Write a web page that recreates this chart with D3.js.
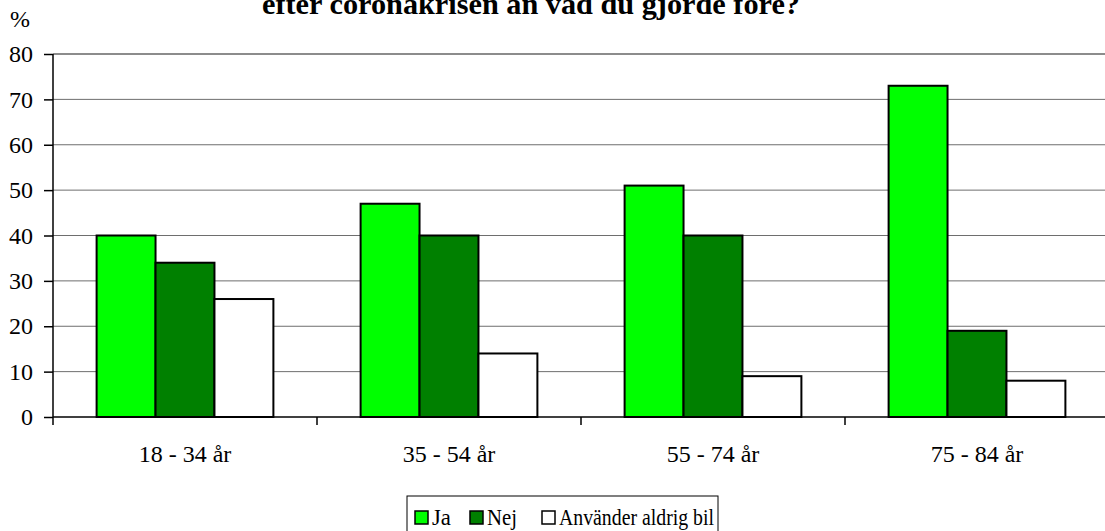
<!DOCTYPE html>
<html>
<head>
<meta charset="utf-8">
<script src="https://cdn.jsdelivr.net/npm/d3@7"></script>
<style>
  body { margin: 0; background: #fff; overflow: hidden; }
  svg text { font-family: "Liberation Serif", "Times New Roman", serif !important; fill: #000; }
</style>
</head>
<body>
<script>
// data
var categories = ["18 - 34 år", "35 - 54 år", "55 - 74 år", "75 - 84 år"]
var seriesNames = ["Ja", "Nej", "Använder aldrig bil"]
var ja = [40, 47, 51, 73]
var nej = [34, 40, 40, 19]
var aldrig = [26, 14, 9, 8]
var yTicks = [0, 10, 20, 30, 40, 50, 60, 70, 80]
var titleText = "efter coronakrisen än vad du gjorde före?"
var unitLabel = "%"

var colors = ["#00ff00", "#008000", "#ffffff"]
var seriesValues = [ja, nej, aldrig]
var serif = "'Liberation Serif', 'Times New Roman', serif"

var width = 1105, height = 531
var margin = { top: 54, left: 53, bottom: 417 }
var plotRight = margin.left + 4 * 264

var svg = d3.select("body").append("svg")
    .attr("width", width)
    .attr("height", height)
    .attr("font-family", serif)

var xScale = d3.scaleBand()
    .domain(categories)
    .range([margin.left, plotRight])

// three bars of ~59px centred in each 264px band
var inner = d3.scaleBand()
    .domain(seriesNames)
    .range([0, xScale.bandwidth()])
    .paddingInner(0)
    .paddingOuter(0.74)

var yScale = d3.scaleLinear()
    .domain([0, 80])
    .range([margin.bottom, margin.top])

// gridlines
svg.append("g")
    .selectAll("line")
    .data(yTicks.filter(d => d > 0))
    .join("line")
    .attr("x1", margin.left)
    .attr("x2", plotRight)
    .attr("y1", d => yScale(d))
    .attr("y2", d => yScale(d))
    .attr("stroke", d => d === 80 ? "#8c8c8c" : "#6e6e6e")
    .attr("stroke-width", d => d === 80 ? 2 : 1)

// bars
var groups = svg.append("g")
    .selectAll("g")
    .data(categories)
    .join("g")
    .attr("transform", d => "translate(" + xScale(d) + ",0)")

groups.selectAll("rect")
    .data((c, i) => seriesNames.map((s, j) => ({ s: s, j: j, v: seriesValues[j][i] })))
    .join("rect")
    .attr("x", d => inner(d.s))
    .attr("width", inner.bandwidth())
    .attr("y", d => yScale(d.v))
    .attr("height", d => yScale(0) - yScale(d.v))
    .attr("fill", d => colors[d.j])
    .attr("stroke", "#000")
    .attr("stroke-width", 2)

// y axis
var yAxis = svg.append("g")
    .attr("transform", "translate(" + margin.left + ",0)")
    .call(d3.axisLeft(yScale).tickValues(yTicks).tickSize(9).tickPadding(11))
yAxis.attr("font-family", serif).attr("font-size", 24)
yAxis.select(".domain").remove()
yAxis.selectAll(".tick line").attr("stroke", "#000").attr("stroke-width", 1.5)
yAxis.selectAll(".tick text").attr("font-family", serif).style("font-size", "24px")
svg.append("line")
    .attr("x1", margin.left).attr("x2", margin.left)
    .attr("y1", yScale(80)).attr("y2", yScale(0) + 8)
    .attr("stroke", "#000").attr("stroke-width", 1.5)

// x axis
svg.append("line")
    .attr("x1", margin.left).attr("x2", plotRight)
    .attr("y1", yScale(0)).attr("y2", yScale(0))
    .attr("stroke", "#000").attr("stroke-width", 1.5)
svg.append("g")
    .selectAll("line")
    .data(categories.slice(1))
    .join("line")
    .attr("x1", d => xScale(d)).attr("x2", d => xScale(d))
    .attr("y1", yScale(0)).attr("y2", yScale(0) + 8)
    .attr("stroke", "#000").attr("stroke-width", 1.5)
svg.append("g")
    .selectAll("text")
    .data(categories)
    .join("text")
    .attr("x", d => xScale(d) + xScale.bandwidth() / 2)
    .attr("y", 462)
    .attr("text-anchor", "middle")
    .style("font-size", "24px")
    .text(d => d)

// unit label
svg.append("text")
    .attr("x", 10).attr("y", 27)
    .style("font-size", "24px")
    .text(unitLabel)

// title (first line lies above the visible area)
svg.append("text")
    .attr("x", 262).attr("y", 14)
    .attr("textLength", 538)
    .attr("lengthAdjust", "spacingAndGlyphs")
    .style("font-size", "30px")
    .style("font-weight", "bold")
    .text(titleText)

// legend
var legend = svg.append("g")
legend.append("rect")
    .attr("x", 407).attr("y", 496)
    .attr("width", 311).attr("height", 50)
    .attr("fill", "#fff").attr("stroke", "#000").attr("stroke-width", 1)
var legendX = [415, 470, 542]
var legendW = [19, 30, 155]
var items = legend.selectAll("g.item")
    .data(seriesNames)
    .join("g")
    .attr("class", "item")
    .attr("transform", (d, i) => "translate(" + legendX[i] + ",0)")
items.append("rect")
    .attr("x", 0).attr("y", 511)
    .attr("width", 13).attr("height", 13)
    .attr("fill", (d, i) => colors[i])
    .attr("stroke", "#000").attr("stroke-width", 1.5)
items.append("text")
    .attr("x", 17).attr("y", 525)
    .attr("textLength", (d, i) => legendW[i])
    .attr("lengthAdjust", "spacingAndGlyphs")
    .style("font-size", "24px")
    .text(d => d)
</script>
</body>
</html>
